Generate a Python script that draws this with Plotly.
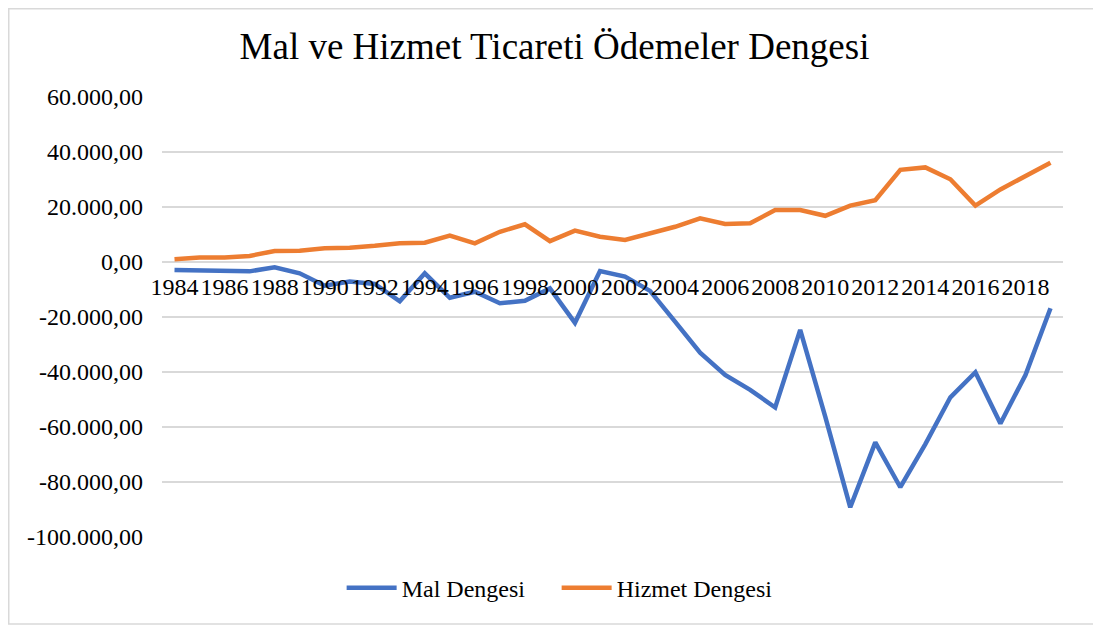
import plotly.graph_objects as go

years = [str(y) for y in range(1984, 2020)]
mal_dengesi = [-2900, -3000, -3000, -3400, -1900, -4100, -8600, -7100, -8000, -14300,
               -4100, -13000, -10800, -15000, -14100, -9600, -22100, -3300, -5300, -10500,
               -21700, -33000, -41100, -46500, -52900, -24700, -56200, -89200, -65600, -81900,
               -66200, -49200, -40100, -58700, -41100, -16800]
hizmet_dengesi = [1000, 1600, 1600, 2200, 4000, 4100, 5000, 5200, 5900, 6800,
                  7000, 9600, 6800, 11000, 13700, 7600, 11400, 9200, 8000, 10400,
                  12800, 15900, 13800, 14100, 18900, 18900, 16800, 20500, 22500, 33500,
                  34400, 30100, 20500, 26400, 31300, 36100]
y_ticks = [60000, 40000, 20000, 0, -20000, -40000, -60000, -80000, -100000]
y_tick_labels = ["60.000,00", "40.000,00", "20.000,00", "0,00", "-20.000,00",
                 "-40.000,00", "-60.000,00", "-80.000,00", "-100.000,00"]
x_tick_years = years[::2]

FONT = "Liberation Serif"

W, H = 1093, 620
L, T = 154, 89
PW, PH = 901, 440
R = W - L - PW
B = H - T - PH

fig = go.Figure()
fig.add_trace(go.Scatter(x=years, y=mal_dengesi, mode="lines", name="Mal Dengesi",
                         line=dict(color="#4472C4", width=4.5)))
fig.add_trace(go.Scatter(x=years, y=hizmet_dengesi, mode="lines", name="Hizmet Dengesi",
                         line=dict(color="#ED7D31", width=4.5)))

fig.update_layout(
    width=W, height=H,
    margin=dict(l=L, r=R, t=T, b=B),
    paper_bgcolor="white", plot_bgcolor="white",
    font=dict(family=FONT, size=24, color="#000000"),
    title=dict(text="Mal ve Hizmet Ticareti Ödemeler Dengesi", x=0.5, xref="container",
               xanchor="center", y=1 - 38 / H, yref="container", yanchor="middle",
               font=dict(family=FONT, size=37, color="#000000")),
    showlegend=True,
    legend=dict(orientation="h", x=0.438, xanchor="center", y=-0.116, yanchor="middle",
                font=dict(family=FONT, size=24, color="#000000"),
                itemwidth=50, entrywidth=150, entrywidthmode="pixels",
                tracegroupgap=0),
    shapes=[dict(type="rect", xref="paper", yref="paper",
                 x0=(0.75 - L) / PW, x1=(1091 - L) / PW,
                 y0=(T + PH - 616) / PH, y1=(T + PH - 0.75) / PH,
                 line=dict(color="#d9d9d9", width=1.5), fillcolor="rgba(0,0,0,0)",
                 layer="below")],
)

fig.update_xaxes(type="category", categoryorder="array", categoryarray=years,
                 tickmode="array", tickvals=x_tick_years, ticktext=x_tick_years,
                 showgrid=False, showline=False, zeroline=False, ticks="",
                 anchor="free", position=100000 / 160000, ticklabelstandoff=8,
                 tickangle=0, range=[-0.5, len(years) - 0.5],
                 tickfont=dict(family=FONT, size=24, color="#000000"))
fig.update_yaxes(range=[-100000, 60000], tickmode="array", tickvals=y_ticks,
                 ticktext=y_tick_labels, showgrid=True, gridcolor="#d9d9d9",
                 gridwidth=1.5, zeroline=False, showline=False, ticks="",
                 ticklabelstandoff=18,
                 tickfont=dict(family=FONT, size=24, color="#000000"))

fig.write_html("out.html")
